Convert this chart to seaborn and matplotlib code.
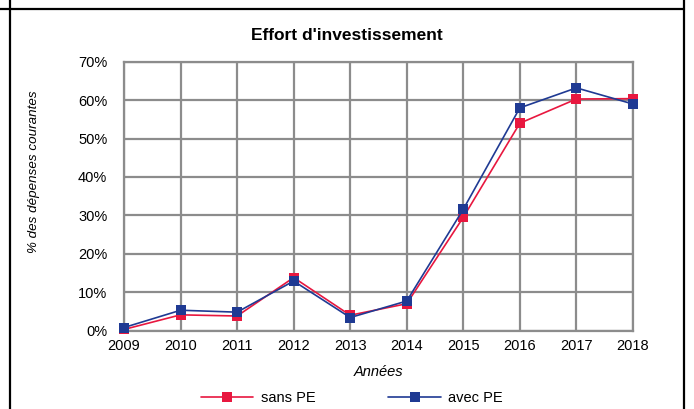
import pandas as pd
import matplotlib.pyplot as plt
import seaborn as sns
from matplotlib.lines import Line2D
from matplotlib.ticker import PercentFormatter

# Data (% of current expenditure)
years = [2009, 2010, 2011, 2012, 2013, 2014, 2015, 2016, 2017, 2018]
sans_pe = [0.3, 4.1, 3.8, 13.8, 4.0, 7.0, 29.5, 54.0, 60.3, 60.4]
avec_pe = [0.8, 5.3, 4.8, 12.9, 3.4, 7.7, 31.6, 58.0, 63.2, 59.0]

df = pd.DataFrame({
    "Années": years * 2,
    "valeur": sans_pe + avec_pe,
    "serie": ["sans PE"] * len(years) + ["avec PE"] * len(years),
})

sns.set_style("white")
plt.rcParams['font.family'] = ['Liberation Sans', 'DejaVu Sans']
plt.rcParams['text.color'] = 'black'
plt.rcParams['xtick.color'] = 'black'
plt.rcParams['ytick.color'] = 'black'
plt.rcParams['axes.labelcolor'] = 'black'

red = "#E8173F"
blue = "#1F3A93"
grid_col = "#8C8C8C"

fig = plt.figure(figsize=(6.94, 4.09), dpi=100)
ax = fig.add_axes([0.1787, 0.1917, 0.7333, 0.6573])

sns.lineplot(data=df, x="Années", y="valeur", hue="serie",
             palette={"sans PE": red, "avec PE": blue},
             marker="s", markersize=6.5, markeredgewidth=0,
             linewidth=1.2, ax=ax, legend=False)
# markers at the ends stick out of the plot area like in the original
for ln in ax.lines:
    ln.set_clip_on(False)

ax.set_xlim(2009, 2018)
ax.set_ylim(0, 70)
ax.set_xticks(years)
ax.set_yticks(range(0, 71, 10))
ax.yaxis.set_major_formatter(PercentFormatter(decimals=0))
ax.tick_params(axis="both", labelsize=10.5, length=0)
ax.tick_params(axis="x", pad=6)
ax.tick_params(axis="y", pad=12)
ax.grid(True, color=grid_col, linewidth=1.6)
ax.set_axisbelow(True)
for s in ax.spines.values():
    s.set_color(grid_col)
    s.set_linewidth(1.6)
    s.set_zorder(0.5)

ax.set_xlabel("Années", fontsize=10.5, style="italic")
ax.xaxis.set_label_coords(0.5, -0.128)
ax.set_ylabel("% des dépenses courantes", fontsize=9.6, style="italic")
ax.yaxis.set_label_coords(-0.165, 0.59)

fig.text(0.5, 0.912, "Effort d'investissement", ha="center", va="center",
         fontsize=12.5, fontweight="bold")

handles = [Line2D([], [], color=red, marker="s", markersize=6.5, markeredgewidth=0, linewidth=1.2),
           Line2D([], [], color=blue, marker="s", markersize=6.5, markeredgewidth=0, linewidth=1.2)]
fig.legend(handles, ["sans PE", "avec PE"], loc="center", bbox_to_anchor=(0.507, 0.027),
           ncol=2, frameon=False, fontsize=10.5, handlelength=3.6, columnspacing=5.0,
           handletextpad=0.5)

# page border lines
fig.add_artist(Line2D([0.0, 0.985], [0.978, 0.978], color="black", linewidth=1.6))
fig.add_artist(Line2D([0.0145, 0.0145], [0, 1], color="black", linewidth=1.6))
fig.add_artist(Line2D([0.985, 0.985], [0, 1], color="black", linewidth=1.6))

fig.savefig("out.png", dpi=100)
